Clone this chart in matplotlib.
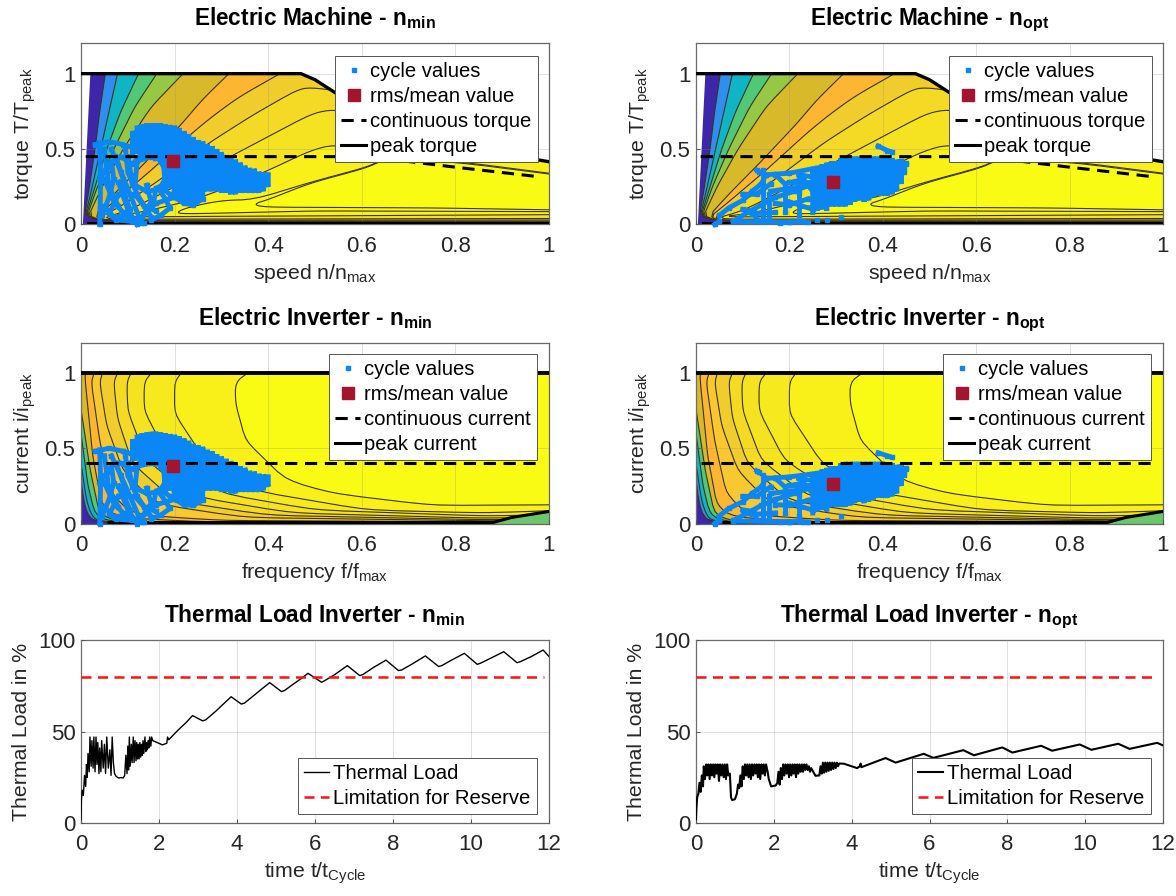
import numpy as np
import matplotlib
matplotlib.use('Agg')
import matplotlib.pyplot as plt
from matplotlib.lines import Line2D
from matplotlib.patches import Polygon

plt.rcParams['font.family'] = ['Liberation Sans', 'DejaVu Sans']
plt.rcParams['mathtext.fontset'] = 'custom'
plt.rcParams['mathtext.rm'] = 'Liberation Sans'
plt.rcParams['mathtext.it'] = 'Liberation Sans'
plt.rcParams['mathtext.bf'] = 'Liberation Sans:bold'

#%%
#--Map limits
PEAK_X = [0, 0.47, 0.50, 0.54, 0.60, 0.70, 0.80, 0.90, 1.0]
PEAK_Y = [1, 1, 0.96, 0.88, 0.76, 0.63, 0.54, 0.47, 0.416]
CONT_X = [0.01, 0.60, 0.667, 0.80, 0.98]
CONT_Y = [0.45, 0.45, 0.43, 0.38, 0.316]
CURRENT_LOW_X = [0.06, 0.88, 0.92, 1.0]
CURRENT_LOW_Y = [0.006, 0.006, 0.04, 0.08]

#--Torque map contours, lowest level first
TORQUE_COLORS = ['#2e8ff0', '#10b5c5', '#50c878', '#96c845', '#d8b92a', '#fdb632',
                 '#f0cc2c', '#f5da25', '#f5e322', '#f8f018', '#f9f915', '#f9fb14']
TORQUE_CURVES = [
    [(0.052, 1), (0.04, 0.75), (0.03, 0.5), (0.018, 0.25), (0.006, 0.03), (1.05, 0.008)],
    [(0.078, 1), (0.06, 0.75), (0.042, 0.5), (0.024, 0.25), (0.007, 0.03), (1.05, 0.01)],
    [(0.123, 1), (0.085, 0.75), (0.055, 0.5), (0.03, 0.25), (0.008, 0.03), (1.05, 0.012)],
    [(0.162, 1), (0.115, 0.78), (0.07, 0.5), (0.035, 0.25), (0.01, 0.03), (1.05, 0.014)],
    [(0.218, 1), (0.15, 0.78), (0.09, 0.5), (0.045, 0.25), (0.012, 0.03), (1.05, 0.016)],
    [(0.316, 1), (0.26, 0.83), (0.216, 0.67), (0.137, 0.41), (0.07, 0.2), (0.02, 0.03), (1.05, 0.018)],
    [(0.425, 1), (0.34, 0.85), (0.285, 0.727), (0.237, 0.605), (0.15, 0.36), (0.07, 0.15), (0.02, 0.025), (1.05, 0.022)],
    [(1.05, 0.88), (0.56, 0.88), (0.49, 0.91), (0.46, 0.89), (0.368, 0.727), (0.276, 0.546), (0.17, 0.3), (0.08, 0.11), (0.025, 0.028), (1.05, 0.03)],
    [(1.05, 0.40), (0.8, 0.54), (0.56, 0.75), (0.53, 0.76), (0.49, 0.73), (0.325, 0.46), (0.2, 0.25), (0.1, 0.09), (0.035, 0.035), (1.05, 0.04)],
    [(1.05, 0.40), (0.97, 0.44), (0.75, 0.46), (0.6, 0.50), (0.54, 0.53), (0.49, 0.49), (0.387, 0.34), (0.25, 0.17), (0.12, 0.075), (0.05, 0.05), (1.05, 0.066)],
    [(1.05, 0.32), (0.81, 0.416), (0.667, 0.44), (0.643, 0.427), (0.61, 0.38), (0.49, 0.28), (0.37, 0.165), (0.3, 0.16), (0.23, 0.115), (0.203, 0.08), (0.22, 0.07), (0.5, 0.09), (1.05, 0.085)],
    [(1.05, 0.315), (0.81, 0.41), (0.667, 0.435), (0.64, 0.42), (0.61, 0.375), (0.49, 0.275), (0.4, 0.165), (0.368, 0.135), (0.39, 0.115), (0.75, 0.11), (1.05, 0.095)],
]

#--Current map contours, lowest level first
CURRENT_COLORS = ['#2e8ff0', '#10b5c5', '#50c878', '#d8b92a', '#fdb632', '#f8c830',
                  '#f0cc2c', '#f5da25', '#f5e322', '#f6ea1e', '#f8f018', '#f9fb14']
CURRENT_CURVES = [
    [(0, 0.29), (0.006, 0.15), (0.014, 0.06), (0.03, 0.012), (0.1, 0.004), (1.05, 0.003)],
    [(0, 0.40), (0.012, 0.15), (0.024, 0.045), (0.04, 0.015), (0.1, 0.006), (1.05, 0.005)],
    [(0, 0.60), (0.015, 0.25), (0.03, 0.06), (0.06, 0.015), (0.12, 0.008), (1.05, 0.007)],
    [(0, 0.76), (0.02, 0.35), (0.04, 0.06), (0.08, 0.015), (0.15, 0.01), (1.05, 0.01)],
    [(0.009, 1), (0.009, 0.95), (0.025, 0.45), (0.045, 0.12), (0.08, 0.04), (0.25, 0.012), (0.86, 0.008), (1.05, 0.008)],
    [(0.028, 1), (0.022, 0.94), (0.04, 0.55), (0.065, 0.2), (0.11, 0.06), (0.3, 0.02), (0.86, 0.012), (1.05, 0.012)],
    [(0.046, 1), (0.04, 0.94), (0.055, 0.65), (0.09, 0.35), (0.16, 0.13), (0.35, 0.04), (0.86, 0.018), (1.05, 0.018)],
    [(0.078, 1), (0.07, 0.94), (0.078, 0.7), (0.11, 0.4), (0.2, 0.15), (0.4, 0.055), (0.86, 0.025), (1.05, 0.03)],
    [(0.107, 1), (0.098, 0.94), (0.1, 0.75), (0.14, 0.42), (0.24, 0.18), (0.45, 0.07), (0.86, 0.035), (1.05, 0.045)],
    [(0.15, 1), (0.135, 0.94), (0.135, 0.75), (0.19, 0.42), (0.3, 0.2), (0.5, 0.09), (0.86, 0.05), (1.05, 0.06)],
    [(0.214, 1), (0.2, 0.94), (0.2, 0.73), (0.27, 0.4), (0.366, 0.22), (0.61, 0.09), (0.86, 0.07), (1.05, 0.09)],
    [(0.356, 1), (0.33, 0.94), (0.33, 0.8), (0.352, 0.55), (0.438, 0.29), (0.538, 0.2), (0.752, 0.12), (1.05, 0.125)],
]

#%%
#--Cycle values, dense part of each cloud as columns (x, top, bottom) plus traces
TORQUE_MIN_COLS = [(0.40, 0.33, 0.25), (0.39, 0.345, 0.22), (0.38, 0.35, 0.21), (0.37, 0.37, 0.21),
    (0.36, 0.375, 0.21), (0.35, 0.39, 0.21), (0.34, 0.41, 0.21), (0.33, 0.43, 0.20), (0.32, 0.445, 0.20),
    (0.31, 0.46, 0.21), (0.30, 0.48, 0.21), (0.29, 0.50, 0.22), (0.28, 0.52, 0.22), (0.27, 0.53, 0.22),
    (0.26, 0.55, 0.17), (0.25, 0.56, 0.15), (0.24, 0.58, 0.14), (0.23, 0.60, 0.14), (0.22, 0.62, 0.15),
    (0.21, 0.64, 0.17), (0.20, 0.655, 0.18), (0.19, 0.66, 0.24), (0.18, 0.665, 0.26), (0.17, 0.67, 0.40),
    (0.16, 0.67, 0.42), (0.15, 0.67, 0.44), (0.14, 0.67, 0.44), (0.13, 0.665, 0.46), (0.12, 0.655, 0.47),
    (0.11, 0.62, 0.47)]
TORQUE_MIN_TRACES = [
    [(0.03, 0.53), (0.06, 0.55), (0.09, 0.53), (0.12, 0.5), (0.17, 0.45)],
    [(0.04, 0.54), (0.042, 0.3), (0.04, 0.0)],
    [(0.04, 0.3), (0.055, 0.38), (0.065, 0.42), (0.07, 0.3), (0.06, 0.18), (0.045, 0.06)],
    [(0.065, 0.5), (0.085, 0.35), (0.105, 0.2), (0.125, 0.04), (0.13, 0.01)],
    [(0.095, 0.5), (0.1, 0.35), (0.12, 0.2), (0.15, 0.05)],
    [(0.14, 0.26), (0.15, 0.15), (0.13, 0.05), (0.11, 0.02), (0.075, 0.03), (0.06, 0.07), (0.08, 0.2)],
    [(0.2, 0.18), (0.16, 0.14), (0.14, 0.08), (0.125, 0.03)],
    [(0.115, 0.25), (0.12, 0.42), (0.15, 0.45)],
    [(0.1, 0.45), (0.11, 0.27), (0.14, 0.22), (0.18, 0.24)],
    [(0.05, 0.3), (0.07, 0.15), (0.09, 0.08), (0.11, 0.03)],
    [(0.2, 0.18), (0.22, 0.14), (0.24, 0.13), (0.26, 0.17)],
    [(0.08, 0.28), (0.1, 0.1), (0.12, 0.0)],
    [(0.12, 0.01), (0.135, 0.01)],
    [(0.17, 0.42), (0.185, 0.33), (0.17, 0.25), (0.19, 0.2)],
    [(0.18, 0.27), (0.16, 0.24), (0.155, 0.14)],
    [(0.13, 0.47), (0.11, 0.40), (0.085, 0.45)],
    [(0.05, 0.5), (0.06, 0.25), (0.08, 0.12)],
    [(0.075, 0.45), (0.09, 0.3), (0.095, 0.18), (0.105, 0.1)],
    [(0.115, 0.2), (0.135, 0.12), (0.16, 0.09)],
    [(0.165, 0.24), (0.18, 0.17), (0.19, 0.11), (0.17, 0.06), (0.15, 0.03)],
    [(0.05, 0.12), (0.07, 0.05), (0.1, 0.06)],
]
TORQUE_OPT_COLS = [(0.44, 0.42, 0.27), (0.43, 0.43, 0.22), (0.42, 0.44, 0.20), (0.41, 0.44, 0.19),
    (0.40, 0.45, 0.19), (0.39, 0.45, 0.19), (0.38, 0.45, 0.18), (0.37, 0.45, 0.16), (0.36, 0.45, 0.15),
    (0.35, 0.45, 0.16), (0.34, 0.45, 0.15), (0.33, 0.45, 0.13), (0.32, 0.45, 0.12), (0.31, 0.44, 0.12),
    (0.30, 0.42, 0.12), (0.29, 0.42, 0.12), (0.28, 0.41, 0.09), (0.27, 0.40, 0.10), (0.26, 0.39, 0.09),
    (0.25, 0.38, 0.08)]
TORQUE_OPT_TRACES = [
    [(0.15, 0.33), (0.2, 0.34), (0.25, 0.37)],
    [(0.05, 0.06), (0.07, 0.11), (0.1, 0.16), (0.12, 0.22), (0.14, 0.27), (0.15, 0.33)],
    [(0.08, 0.02), (0.11, 0.08), (0.14, 0.13), (0.17, 0.18), (0.21, 0.22), (0.25, 0.27)],
    [(0.143, 0.36), (0.143, 0.02)],
    [(0.157, 0.2), (0.157, 0.02)],
    [(0.22, 0.33), (0.28, 0.30)],
    [(0.16, 0.22), (0.2, 0.24), (0.28, 0.27)],
    [(0.2, 0.15), (0.25, 0.10), (0.28, 0.14)],
    [(0.08, 0.02), (0.2, 0.015)],
    [(0.04, 0.0), (0.05, 0.02)],
    [(0.18, 0.01), (0.2, 0.015), (0.22, 0.02), (0.24, 0.015)],
    [(0.13, 0.36), (0.135, 0.35)],
    [(0.39, 0.52), (0.41, 0.49), (0.42, 0.48)],
    [(0.445, 0.37), (0.445, 0.35)],
    [(0.45, 0.40), (0.45, 0.41)],
    [(0.17, 0.33), (0.19, 0.27), (0.23, 0.30)],
    [(0.19, 0.22), (0.19, 0.08)],
    [(0.1, 0.1), (0.125, 0.09), (0.13, 0.03)],
    [(0.22, 0.21), (0.22, 0.06)],
    [(0.1, 0.2), (0.13, 0.2), (0.16, 0.27)],
    [(0.17, 0.14), (0.2, 0.13), (0.24, 0.17)],
    [(0.12, 0.07), (0.17, 0.08)],
    [(0.23, 0.3), (0.25, 0.22)],
    [(0.2, 0.28), (0.25, 0.28)],
]
TORQUE_OPT_STRAY = [(0.26, 0.03), (0.28, 0.03), (0.31, 0.05), (0.23, 0.02), (0.09, 0.03)]

CURRENT_MIN_COLS = [(0.40, 0.31, 0.245), (0.39, 0.325, 0.22), (0.38, 0.33, 0.21), (0.37, 0.345, 0.21),
    (0.36, 0.35, 0.21), (0.35, 0.37, 0.21), (0.34, 0.38, 0.21), (0.33, 0.40, 0.20), (0.32, 0.415, 0.20),
    (0.31, 0.43, 0.21), (0.30, 0.445, 0.21), (0.29, 0.46, 0.22), (0.28, 0.48, 0.22), (0.27, 0.49, 0.22),
    (0.26, 0.51, 0.16), (0.25, 0.52, 0.14), (0.24, 0.53, 0.13), (0.23, 0.55, 0.13), (0.22, 0.565, 0.14),
    (0.21, 0.58, 0.16), (0.20, 0.59, 0.17), (0.19, 0.595, 0.22), (0.18, 0.60, 0.24), (0.17, 0.605, 0.36),
    (0.16, 0.61, 0.38), (0.15, 0.61, 0.40), (0.14, 0.605, 0.40), (0.13, 0.60, 0.42), (0.12, 0.59, 0.42),
    (0.11, 0.56, 0.43)]
CURRENT_MIN_TRACES = [
    [(0.03, 0.48), (0.06, 0.50), (0.09, 0.48), (0.12, 0.45), (0.17, 0.41)],
    [(0.04, 0.49), (0.042, 0.27), (0.04, 0.0)],
    [(0.04, 0.27), (0.055, 0.34), (0.065, 0.38), (0.07, 0.27), (0.06, 0.16), (0.045, 0.05)],
    [(0.065, 0.45), (0.085, 0.32), (0.105, 0.18), (0.125, 0.035), (0.13, 0.01)],
    [(0.095, 0.45), (0.1, 0.32), (0.12, 0.18), (0.15, 0.045)],
    [(0.14, 0.235), (0.15, 0.135), (0.13, 0.045), (0.11, 0.02), (0.075, 0.03), (0.06, 0.06), (0.08, 0.18)],
    [(0.2, 0.16), (0.16, 0.125), (0.14, 0.07), (0.125, 0.03)],
    [(0.115, 0.225), (0.12, 0.38), (0.15, 0.40)],
    [(0.1, 0.40), (0.11, 0.245), (0.14, 0.20), (0.18, 0.215)],
    [(0.05, 0.27), (0.07, 0.135), (0.09, 0.07), (0.11, 0.03)],
    [(0.2, 0.16), (0.22, 0.125), (0.24, 0.12), (0.26, 0.155)],
    [(0.08, 0.25), (0.1, 0.09), (0.12, 0.0)],
    [(0.12, 0.01), (0.135, 0.01)],
    [(0.17, 0.38), (0.185, 0.30), (0.17, 0.225), (0.19, 0.18)],
    [(0.18, 0.245), (0.16, 0.215), (0.155, 0.125)],
    [(0.13, 0.42), (0.11, 0.36), (0.085, 0.40)],
    [(0.05, 0.45), (0.06, 0.225), (0.08, 0.11)],
    [(0.075, 0.40), (0.09, 0.27), (0.095, 0.16), (0.105, 0.09)],
    [(0.115, 0.18), (0.135, 0.11), (0.16, 0.08)],
    [(0.165, 0.215), (0.18, 0.15), (0.19, 0.10), (0.17, 0.055), (0.15, 0.03)],
    [(0.05, 0.11), (0.07, 0.045), (0.1, 0.055)],
]
CURRENT_OPT_COLS = [(0.44, 0.38, 0.25), (0.43, 0.39, 0.20), (0.42, 0.40, 0.18), (0.41, 0.40, 0.17),
    (0.40, 0.41, 0.17), (0.39, 0.41, 0.17), (0.38, 0.41, 0.16), (0.37, 0.41, 0.145), (0.36, 0.41, 0.135),
    (0.35, 0.41, 0.145), (0.34, 0.41, 0.135), (0.33, 0.41, 0.12), (0.32, 0.41, 0.11), (0.31, 0.40, 0.11),
    (0.30, 0.38, 0.11), (0.29, 0.38, 0.11), (0.28, 0.37, 0.08), (0.27, 0.36, 0.09), (0.26, 0.35, 0.08),
    (0.25, 0.34, 0.07)]
CURRENT_OPT_TRACES = [
    [(0.15, 0.30), (0.2, 0.31), (0.25, 0.33)],
    [(0.05, 0.05), (0.07, 0.10), (0.1, 0.145), (0.12, 0.20), (0.14, 0.245), (0.15, 0.30)],
    [(0.08, 0.02), (0.11, 0.07), (0.14, 0.12), (0.17, 0.16), (0.21, 0.20), (0.25, 0.245)],
    [(0.143, 0.32), (0.143, 0.02)],
    [(0.157, 0.18), (0.157, 0.02)],
    [(0.22, 0.30), (0.28, 0.27)],
    [(0.16, 0.20), (0.2, 0.215), (0.28, 0.245)],
    [(0.2, 0.135), (0.25, 0.09), (0.28, 0.125)],
    [(0.08, 0.015), (0.2, 0.012)],
    [(0.04, 0.0), (0.05, 0.02)],
    [(0.18, 0.008), (0.2, 0.012), (0.22, 0.015), (0.24, 0.01)],
    [(0.13, 0.35), (0.135, 0.34)],
    [(0.39, 0.47), (0.41, 0.45), (0.42, 0.44)],
    [(0.445, 0.34), (0.445, 0.32)],
    [(0.45, 0.36), (0.45, 0.37)],
    [(0.17, 0.30), (0.19, 0.245), (0.23, 0.27)],
    [(0.19, 0.20), (0.19, 0.07)],
    [(0.1, 0.09), (0.125, 0.08), (0.13, 0.025)],
    [(0.22, 0.19), (0.22, 0.05)],
    [(0.1, 0.18), (0.13, 0.18), (0.16, 0.245)],
    [(0.17, 0.125), (0.2, 0.12), (0.24, 0.155)],
    [(0.12, 0.06), (0.17, 0.07)],
    [(0.23, 0.27), (0.25, 0.20)],
    [(0.2, 0.255), (0.25, 0.255)],
]
CURRENT_OPT_STRAY = [(0.26, 0.02), (0.28, 0.025), (0.31, 0.05), (0.23, 0.01), (0.09, 0.02)]

RMS_TORQUE_MIN = (0.197, 0.42)
RMS_TORQUE_OPT = (0.293, 0.279)
RMS_CURRENT_MIN = (0.197, 0.385)
RMS_CURRENT_OPT = (0.293, 0.26)

#%%
#--Thermal load
THERMAL_LIMIT = 80
LIMIT_T = [0, 11.87]
T_MIN = [0, 0.01, 0.03, 0.06, 0.09, 0.12, 0.14, 0.16, 0.18, 0.21, 0.23, 0.26, 0.28, 0.31, 0.33, 0.36, 0.385,
    0.41, 0.43, 0.46, 0.48, 0.51, 0.53, 0.57, 0.6, 0.63, 0.66, 0.7, 0.74, 0.77, 0.80, 0.83, 0.86, 0.9, 0.96,
    1.02, 1.08, 1.12, 1.15, 1.18, 1.2, 1.22, 1.24, 1.26, 1.29, 1.31, 1.34, 1.36, 1.385, 1.41, 1.43, 1.45, 1.47,
    1.49, 1.51, 1.53, 1.55, 1.57, 1.59, 1.61, 1.64, 1.66, 1.68, 1.7, 1.72, 1.74, 1.76, 1.79, 1.81, 1.84,
    2.09, 2.2, 2.22, 2.25, 2.5, 2.7, 2.86, 3.12, 3.2, 3.45, 3.65, 3.85, 4.11, 4.19, 4.45, 4.65, 4.84, 5.14,
    5.22, 5.45, 5.65, 5.82, 6.17, 6.25, 6.5, 6.83, 7.15, 7.24, 7.5, 7.82, 8.14, 8.22, 8.5, 8.83, 9.17, 9.25,
    9.5, 9.83, 10.16, 10.24, 10.5, 10.84, 11.18, 11.27, 11.55, 11.85, 12]
Y_MIN = [2, 12, 18, 15, 26, 20, 32, 25, 38, 28, 47, 31, 45, 30, 47, 28, 47,
    32, 44, 27, 41, 28, 45, 30, 43, 27, 47, 30, 40, 26, 47, 33, 27, 25.5, 24.6,
    24.8, 24.6, 26, 37, 27, 42, 29, 47, 31, 43, 33, 47, 33, 45, 34, 44, 35, 43,
    35, 44, 36, 43, 37, 45, 38, 47, 39, 44, 40, 45, 41, 47, 42, 47, 45,
    42.7, 43.6, 47, 45.5, 51, 55, 58.7, 55.8, 56.4, 61, 65, 69, 65, 65.5, 70, 73.5, 76.7, 71.8,
    72.4, 76, 79, 81.8, 76.9, 77.8, 81, 86, 80.5, 81.3, 85, 89, 83.3, 83.6, 87, 91.3, 85.5, 86,
    89, 92.7, 86.7, 87.3, 90, 93.6, 87.6, 88.2, 91, 94.5, 91]
T_OPT = [0, 0.01, 0.03, 0.06, 0.09, 0.12, 0.15, 0.18, 0.2, 0.23, 0.26, 0.29, 0.32, 0.35, 0.38, 0.41, 0.44, 0.47,
    0.5, 0.53, 0.56, 0.59, 0.62, 0.65, 0.68, 0.71, 0.74, 0.77, 0.8, 0.83, 0.87, 0.9, 0.93, 1.0, 1.05, 1.08, 1.11,
    1.14, 1.17, 1.2, 1.23, 1.26, 1.29, 1.32, 1.35, 1.38, 1.41, 1.44, 1.47, 1.5, 1.53, 1.56, 1.59, 1.62, 1.65, 1.68,
    1.71, 1.74, 1.77, 1.8, 1.84, 1.87, 1.93, 2.05, 2.09, 2.12, 2.15, 2.18, 2.21, 2.24, 2.27, 2.3, 2.33, 2.36, 2.39,
    2.42, 2.45, 2.48, 2.51, 2.54, 2.57, 2.6, 2.63, 2.66, 2.69, 2.72, 2.75, 2.78, 2.81, 2.84, 2.87, 2.9, 2.93, 2.96,
    3.07, 3.17, 3.2, 3.23, 3.26, 3.29, 3.32, 3.35, 3.38, 3.41, 3.44, 3.47, 3.5, 3.53, 3.56, 3.59, 3.62, 3.65, 3.68,
    3.8, 4.14, 4.21, 4.23, 4.25, 4.87, 5.13, 5.85, 6.1, 6.87, 7.14, 7.87, 8.13, 8.87, 9.15, 9.86, 10.16, 10.85,
    11.14, 11.85, 12]
Y_OPT = [2, 8, 14, 16, 22, 17, 26, 20, 31, 24, 32, 26, 32, 24, 32, 26, 32, 25,
    32, 27, 32, 23, 32, 26, 32, 25, 32, 24, 32, 26, 27, 14, 12.5, 13, 16, 21, 19,
    26, 20, 31, 24, 32, 26, 32, 25, 32, 24, 32, 26, 32, 27, 32, 25, 32, 24, 32,
    27, 32, 26, 32, 28, 24, 20, 20.5, 22, 28, 21, 30, 24, 32, 26, 32, 27, 32, 25,
    32, 26, 32, 27, 32, 25, 32, 27, 32, 28, 32, 28, 32, 29, 32, 29, 31, 28, 30,
    25.8, 26, 31, 27, 33, 27.5, 33, 28, 33, 28.5, 33, 29, 33, 29.5, 33, 30, 33, 31, 32.5,
    32.4, 30, 31, 32.5, 30.5, 35.5, 33, 37.8, 35.6, 39.8, 37, 41.3, 38.5, 42.2, 39.5, 42.9, 40, 43.3,
    40.5, 43.8, 42.4]

X_TICKS = [0, 0.2, 0.4, 0.6, 0.8, 1]
X_TICK_LABELS = ['0', '0.2', '0.4', '0.6', '0.8', '1']
Y_TICKS = [0, 0.5, 1]
Y_TICK_LABELS = ['0', '0.5', '1']
T_TICKS = [0, 2, 4, 6, 8, 10, 12]
LOAD_TICKS = [0, 50, 100]

#%%
BLUE = '#0a86f5'
RED = '#a3142f'
W, H = 1176, 896
LABEL_SIZE = 15.3
TICK_SIZE = 16
TITLE_SIZE = 16.3
LEGEND_SIZE = 14.6


def smooth(points, rounds=2, cut=0.03):
    #corner cutting so the hand read contours are not too angular, long segments only lose their ends
    pts = np.array(points, dtype=float)
    for _ in range(rounds):
        new = [pts[0]]
        for a, b in zip(pts[:-1], pts[1:]):
            t = min(0.25, cut / max(np.hypot(*(b - a)), 1e-6))
            new.append(a + t * (b - a))
            new.append(b - t * (b - a))
        new.append(pts[-1])
        pts = np.array(new)
    return pts


def make_axes(left, top, right, bottom):
    ax = fig.add_axes([left / W, 1 - bottom / H, (right - left) / W, (bottom - top) / H])
    for s in ax.spines.values():
        s.set_color('#666666')
        s.set_linewidth(0.9)
    ax.tick_params(direction='in', length=3, width=0.7, color='#555555', labelcolor='#262626',
                   labelsize=TICK_SIZE)
    ax.tick_params(axis='x', pad=8)
    ax.tick_params(axis='y', pad=4)
    ax.set_axisbelow(False)
    ax.grid(True, color='#888888', lw=0.6, alpha=0.3)
    return ax


def draw_map(ax, base_env, curves, colors):
    env = Polygon(base_env, closed=True, transform=ax.transData)
    bg = Polygon(base_env, closed=True, fc='#3e26a8', ec='none', zorder=1)
    ax.add_patch(bg)
    for curve, col in zip(curves, colors):
        v = smooth(curve)
        #curves that start on the top or left edge are closed around the top of the axes
        if curve[0][0] < 1:
            v = np.vstack((v, [(1.05, 1.3), (-0.05, 1.3)]))
        p = Polygon(v, closed=True, fc=col, ec='#3a3418', lw=0.8, zorder=1)
        ax.add_patch(p)
        p.set_clip_path(env)


def draw_cloud(ax, cols, traces, stray):
    #zigzag through the dense columns, then the single traces
    x, y = [], []
    for c in cols:
        x += [c[0], c[0]]
        y += [c[1], c[2]]
    ax.plot(x, y, '-', color=BLUE, lw=3.6, solid_joinstyle='miter', zorder=3)
    for t in traces:
        ax.plot([p[0] for p in t], [p[1] for p in t], '-s', color=BLUE, lw=3.5, ms=3.2, zorder=3, clip_on=False)
    if stray:
        ax.plot([p[0] for p in stray], [p[1] for p in stray], 's', color=BLUE, ms=3.5, zorder=3, clip_on=False)


def map_legend(ax, cont_label, peak_label, px, py):
    handles = [
        Line2D([], [], ls='none', marker='s', color=BLUE, ms=3),
        Line2D([], [], ls='none', marker='s', color=RED, ms=8.5),
        Line2D([], [], ls='--', color='k', lw=2.2, dashes=(4, 2.5)),
        Line2D([], [], ls='-', color='k', lw=2.2),
    ]
    labels = ['cycle values', 'rms/mean value', cont_label, peak_label]
    leg = ax.legend(handles, labels, loc='upper left', bbox_to_anchor=(px / W, 1 - py / H),
                    bbox_transform=fig.transFigure, borderaxespad=0, fontsize=LEGEND_SIZE, fancybox=False,
                    framealpha=1, edgecolor='#555555', labelspacing=0.3, handlelength=1.25,
                    handletextpad=0.2, borderpad=0.3)
    leg.get_frame().set_linewidth(0.7)
    leg.set_zorder(6)


def style_map(ax, title, xlabel, ylabel):
    ax.set_xlim(0, 1)
    ax.set_ylim(0, 1.2)
    ax.set_xticks(X_TICKS)
    ax.set_xticklabels(X_TICK_LABELS)
    ax.set_yticks(Y_TICKS)
    ax.set_yticklabels(Y_TICK_LABELS)
    ax.set_xlabel(xlabel, fontsize=LABEL_SIZE, color='#262626', labelpad=4)
    ax.set_ylabel(ylabel, fontsize=LABEL_SIZE, color='#262626', labelpad=5)
    ax.set_title(title, fontsize=TITLE_SIZE, fontweight='bold', pad=13)


def thermal(ax, t, y, lw, title, px, py):
    ax.plot(t, y, color='k', lw=lw, zorder=3)
    ax.plot(LIMIT_T, [THERMAL_LIMIT, THERMAL_LIMIT], '--', color='#ff1010', lw=1.8, dashes=(4, 2.6), zorder=3)
    ax.set_xlim(0, 12)
    ax.set_ylim(0, 100)
    ax.set_xticks(T_TICKS)
    ax.set_yticks(LOAD_TICKS)
    ax.set_xlabel('time t/t$_{\\mathrm{Cycle}}$', fontsize=LABEL_SIZE, color='#262626', labelpad=4)
    ax.set_ylabel('Thermal Load in %', fontsize=LABEL_SIZE, color='#262626', labelpad=5)
    ax.set_title(title, fontsize=TITLE_SIZE, fontweight='bold', pad=13)
    handles = [Line2D([], [], color='k', lw=lw),
               Line2D([], [], ls='--', color='#ff1010', lw=1.8, dashes=(4, 2.6))]
    leg = ax.legend(handles, ['Thermal Load', 'Limitation for Reserve'], loc='upper left',
                    bbox_to_anchor=(px / W, 1 - py / H), bbox_transform=fig.transFigure, borderaxespad=0,
                    fontsize=LEGEND_SIZE, fancybox=False, framealpha=1, edgecolor='#555555', labelspacing=0.3,
                    handlelength=1.25, handletextpad=0.2, borderpad=0.3)
    leg.get_frame().set_linewidth(0.7)
    leg.set_zorder(6)


#%%
fig = plt.figure(figsize=(W / 100, H / 100), dpi=100)

TORQUE_ENV = [(0.004, 0), (0.02, 1)] + list(zip(PEAK_X[1:], PEAK_Y[1:])) + [(1, 0)]
CURRENT_ENV = [(0, 0), (0, 1), (1, 1), (1, 0)]

panels = [
    (81, 43.5, 549, 224.5, 'Electric Machine - n$_{\\mathbf{min}}$', TORQUE_MIN_COLS, TORQUE_MIN_TRACES, [], RMS_TORQUE_MIN, 335, 56),
    (696, 43.5, 1163, 224.5, 'Electric Machine - n$_{\\mathbf{opt}}$', TORQUE_OPT_COLS, TORQUE_OPT_TRACES, TORQUE_OPT_STRAY, RMS_TORQUE_OPT, 949, 56),
]
for left, top, right, bottom, title, cols, traces, stray, rms, lx, ly in panels:
    ax = make_axes(left, top, right, bottom)
    draw_map(ax, TORQUE_ENV, TORQUE_CURVES, TORQUE_COLORS)
    ax.plot(PEAK_X, PEAK_Y, color='k', lw=2.4, zorder=3)
    ax.plot([0.015, 1], [0.01, 0.01], color='k', lw=2.2, zorder=3)
    draw_cloud(ax, cols, traces, stray)
    ax.plot(CONT_X, CONT_Y, '--', color='k', lw=2.2, dashes=(4, 2.5), zorder=4)
    ax.plot(rms[0], rms[1], 's', color=RED, ms=8.5, zorder=5)
    style_map(ax, title, 'speed n/n$_{\\mathrm{max}}$', 'torque T/T$_{\\mathrm{peak}}$')
    map_legend(ax, 'continuous torque', 'peak torque', lx, ly)

panels = [
    (81, 343, 549, 523.5, 'Electric Inverter - n$_{\\mathbf{min}}$', CURRENT_MIN_COLS, CURRENT_MIN_TRACES, [], RMS_CURRENT_MIN, 329, 354),
    (696, 343, 1163, 523.5, 'Electric Inverter - n$_{\\mathbf{opt}}$', CURRENT_OPT_COLS, CURRENT_OPT_TRACES, CURRENT_OPT_STRAY, RMS_CURRENT_OPT, 943, 354),
]
for left, top, right, bottom, title, cols, traces, stray, rms, lx, ly in panels:
    ax = make_axes(left, top, right, bottom)
    draw_map(ax, CURRENT_ENV, CURRENT_CURVES, CURRENT_COLORS)
    #corner below the low current limit
    ax.fill_between(CURRENT_LOW_X[1:], 0, CURRENT_LOW_Y[1:], color='#6cc66c', zorder=1.5)
    ax.plot(CURRENT_LOW_X, CURRENT_LOW_Y, color='k', lw=2.2, zorder=3)
    ax.plot([0, 1], [1, 1], color='k', lw=2.8, zorder=3)
    draw_cloud(ax, cols, traces, stray)
    ax.plot([0.01, 0.98], [0.4, 0.4], '--', color='k', lw=2.2, dashes=(4, 2.5), zorder=4)
    ax.plot(rms[0], rms[1], 's', color=RED, ms=8.5, zorder=5)
    style_map(ax, title, 'frequency f/f$_{\\mathrm{max}}$', 'current i/i$_{\\mathrm{peak}}$')
    map_legend(ax, 'continuous current', 'peak current', lx, ly)

ax = make_axes(81, 640, 549, 823)
thermal(ax, T_MIN, Y_MIN, 1.0, 'Thermal Load Inverter - n$_{\\mathbf{min}}$', 298, 758)
ax = make_axes(696, 640, 1163, 823)
thermal(ax, T_OPT, Y_OPT, 1.5, 'Thermal Load Inverter - n$_{\\mathbf{opt}}$', 912, 758)

fig.savefig('out.png', dpi=100)
plt.close()
